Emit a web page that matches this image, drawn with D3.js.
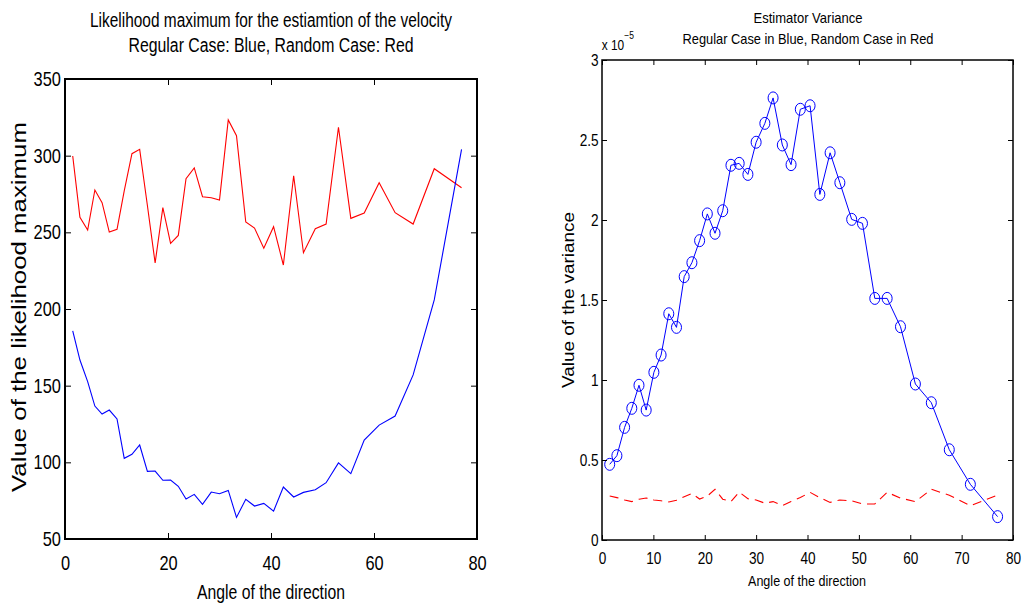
<!DOCTYPE html>
<html>
<head>
<meta charset="utf-8">
<script src="https://cdn.jsdelivr.net/npm/d3@7.9.0/dist/d3.min.js"></script>
<style>
  body { margin: 0; background: #fff; }
  text { font-family: "Liberation Sans", Arial, sans-serif; fill: #000; }
</style>
</head>
<body>
<div class="container"></div>
<script>
// angle of the direction (same sampling for every series)
const angles = [1.5, 2.9, 4.4, 5.8, 7.2, 8.6, 10.1, 11.5, 13.0, 14.5, 16.0, 17.5, 19.0, 20.5, 22.0, 23.5,
  25.1, 26.7, 28.4, 30.0, 31.7, 33.3, 35.1, 36.8, 38.6, 40.5, 42.4, 44.4, 46.3, 48.6, 50.7, 53.1,
  55.5, 58.1, 61.0, 64.1, 67.6, 71.7, 77.0];

// left panel: likelihood maximum
const likeRegular = [185.8, 166.7, 152.6, 136.7, 131.5, 134.1, 128.3, 102.6, 105.2, 111.3, 94.1, 94.3,
  88.3, 88.5, 84.4, 76.1, 79.1, 72.6, 80.6, 79.5, 81.7, 64.1, 75.9, 71.5, 73.2, 68.2, 83.9, 77.4,
  80.4, 82.1, 86.7, 99.6, 92.6, 114.5, 124.3, 130.2, 157.0, 205.9, 304.1];
const likeRandom = [299.8, 259.8, 251.5, 277.6, 269.3, 250.2, 252.0, 277.0, 301.3, 304.1, 267.5, 230.0,
  266.1, 242.8, 248.0, 285.0, 292.0, 273.2, 272.6, 271.1, 323.3, 313.0, 256.7, 252.8, 239.6, 253.7,
  228.7, 286.9, 236.7, 252.4, 255.4, 318.5, 259.1, 262.6, 282.4, 262.8, 255.4, 291.5, 279.1];

// right panel: estimator variance (x 10^-5)
const varRegular = [0.473, 0.527, 0.704, 0.823, 0.967, 0.812, 1.048, 1.156, 1.414, 1.329, 1.646, 1.733,
  1.871, 2.038, 1.917, 2.058, 2.342, 2.354, 2.285, 2.486, 2.604, 2.763, 2.469, 2.346, 2.692, 2.714,
  2.160, 2.420, 2.233, 2.004, 1.979, 1.510, 1.510, 1.333, 0.975, 0.858, 0.564, 0.348, 0.146];
const varRandom = [0.275, 0.265, 0.250, 0.240, 0.255, 0.262, 0.250, 0.245, 0.238, 0.248, 0.270, 0.290,
  0.256, 0.275, 0.317, 0.255, 0.240, 0.300, 0.258, 0.250, 0.230, 0.240, 0.215, 0.240, 0.265, 0.298,
  0.265, 0.235, 0.250, 0.245, 0.225, 0.225, 0.298, 0.262, 0.240, 0.317, 0.280, 0.214, 0.280];

const leftXTicks = [0, 20, 40, 60, 80];
const leftYTicks = [50, 100, 150, 200, 250, 300, 350];
const rightXTicks = [0, 10, 20, 30, 40, 50, 60, 70, 80];
const rightYTicks = [0, 0.5, 1, 1.5, 2, 2.5, 3];

const width = 1022, height = 610;

const svg = d3.select(".container")
  .append("svg")
  .attr("width", width)
  .attr("height", height);

// fit a text to a measured width
function fit(sel, len, adjust) {
  sel.attr("textLength", len).attr("lengthAdjust", adjust || "spacingAndGlyphs");
  return sel;
}

// draws a matlab style box with inward ticks on all four sides
function frame(g, x, y, xTicks, yTicks, opt) {
  const [x0, x1] = x.range();
  const [y1, y0] = y.range();
  const squeeze = `scale(${opt.squeeze},1)`;  // tick labels are narrow in the original

  g.append("g")
    .attr("transform", `translate(0,${y1})`)
    .call(d3.axisBottom(x).tickValues(xTicks).tickSize(-opt.tick).tickPadding(opt.xPad).tickFormat(d3.format("")))
    .call(a => a.select(".domain").remove())
    .call(a => a.selectAll("text").attr("font-size", opt.font).attr("dy", "0.72em").attr("transform", squeeze));
  g.append("g")
    .attr("transform", `translate(0,${y0})`)
    .call(d3.axisTop(x).tickValues(xTicks).tickSize(-opt.tick).tickFormat(""))
    .call(a => a.select(".domain").remove());
  g.append("g")
    .attr("transform", `translate(${x0},0)`)
    .call(d3.axisLeft(y).tickValues(yTicks).tickSize(-opt.tick).tickPadding(opt.yPad).tickFormat(d3.format("")))
    .call(a => a.select(".domain").remove())
    .call(a => a.selectAll("text").attr("font-size", opt.font).attr("transform", squeeze));
  g.append("g")
    .attr("transform", `translate(${x1},0)`)
    .call(d3.axisRight(y).tickValues(yTicks).tickSize(-opt.tick).tickFormat(""))
    .call(a => a.select(".domain").remove());

  g.selectAll(".tick line").attr("stroke", "#000").attr("stroke-width", 1);

  g.append("rect")
    .attr("x", x0).attr("y", y0)
    .attr("width", x1 - x0).attr("height", y1 - y0)
    .attr("fill", "none")
    .attr("stroke", "#000")
    .attr("stroke-width", opt.box);
}

// ---------- left panel ----------
const xL = d3.scaleLinear().domain([0, 80]).range([65, 477]);
const yL = d3.scaleLinear().domain([50, 350]).range([539, 79]);
const left = svg.append("g");

const lineL = data => d3.line().x((d, i) => xL(angles[i])).y(d => yL(d))(data);

left.append("path").attr("d", lineL(likeRandom))
  .attr("fill", "none").attr("stroke", "#ff0000").attr("stroke-width", 1.1);
left.append("path").attr("d", lineL(likeRegular))
  .attr("fill", "none").attr("stroke", "#0000ff").attr("stroke-width", 1.1);

frame(left, xL, yL, leftXTicks, leftYTicks, { tick: 6, xPad: 17, yPad: 5, font: 20, box: 2, squeeze: 0.82 });

fit(left.append("text").attr("x", 271).attr("y", 27).attr("text-anchor", "middle").attr("font-size", 20)
  .text("Likelihood maximum for the estiamtion of the velocity"), 362);
fit(left.append("text").attr("x", 271).attr("y", 52).attr("text-anchor", "middle").attr("font-size", 20)
  .text("Regular Case: Blue, Random Case: Red"), 285);
fit(left.append("text").attr("x", 271).attr("y", 599).attr("text-anchor", "middle").attr("font-size", 20)
  .text("Angle of the direction"), 148);
fit(left.append("text")
  .attr("transform", "translate(26,307) rotate(-90)")
  .attr("text-anchor", "middle").attr("font-size", 20)
  .text("Value of the likelihood maximum"), 370);

// ---------- right panel ----------
const xR = d3.scaleLinear().domain([0, 80]).range([602, 1013]);
const yR = d3.scaleLinear().domain([0, 3]).range([540, 60]);
const right = svg.append("g");

const lineR = data => d3.line().x((d, i) => xR(angles[i])).y(d => yR(d))(data);

right.append("path").attr("d", lineR(varRandom))
  .attr("fill", "none").attr("stroke", "#ff0000").attr("stroke-width", 1.1)
  .attr("stroke-dasharray", "9,6");
right.append("path").attr("d", lineR(varRegular))
  .attr("fill", "none").attr("stroke", "#0000ff").attr("stroke-width", 1);
right.selectAll("ellipse.mk")
  .data(varRegular)
  .enter().append("ellipse")
  .attr("class", "mk")
  .attr("cx", (d, i) => xR(angles[i]))
  .attr("cy", d => yR(d))
  .attr("rx", 5).attr("ry", 6)
  .attr("fill", "none").attr("stroke", "#0000ff").attr("stroke-width", 1);

frame(right, xR, yR, rightXTicks, rightYTicks, { tick: 5, xPad: 12, yPad: 4, font: 16, box: 1.5, squeeze: 0.85 });

fit(right.append("text").attr("x", 808).attr("y", 23).attr("text-anchor", "middle").attr("font-size", 15)
  .text("Estimator Variance"), 109);
fit(right.append("text").attr("x", 808).attr("y", 44).attr("text-anchor", "middle").attr("font-size", 15)
  .text("Regular Case in Blue, Random Case in Red"), 251);
fit(right.append("text").attr("x", 807).attr("y", 586).attr("text-anchor", "middle").attr("font-size", 15)
  .text("Angle of the direction"), 118);
fit(right.append("text")
  .attr("transform", "translate(574,300) rotate(-90)")
  .attr("text-anchor", "middle").attr("font-size", 16)
  .text("Value of the variance"), 176);

// exponent label
const expo = right.append("text").attr("x", 602).attr("y", 50).attr("font-size", 14)
  .attr("transform", "translate(90,0) scale(0.85,1)");
expo.append("tspan").text("x 10");
expo.append("tspan").attr("dy", -11).attr("font-size", 10).text("\u22125");
</script>
</body>
</html>
